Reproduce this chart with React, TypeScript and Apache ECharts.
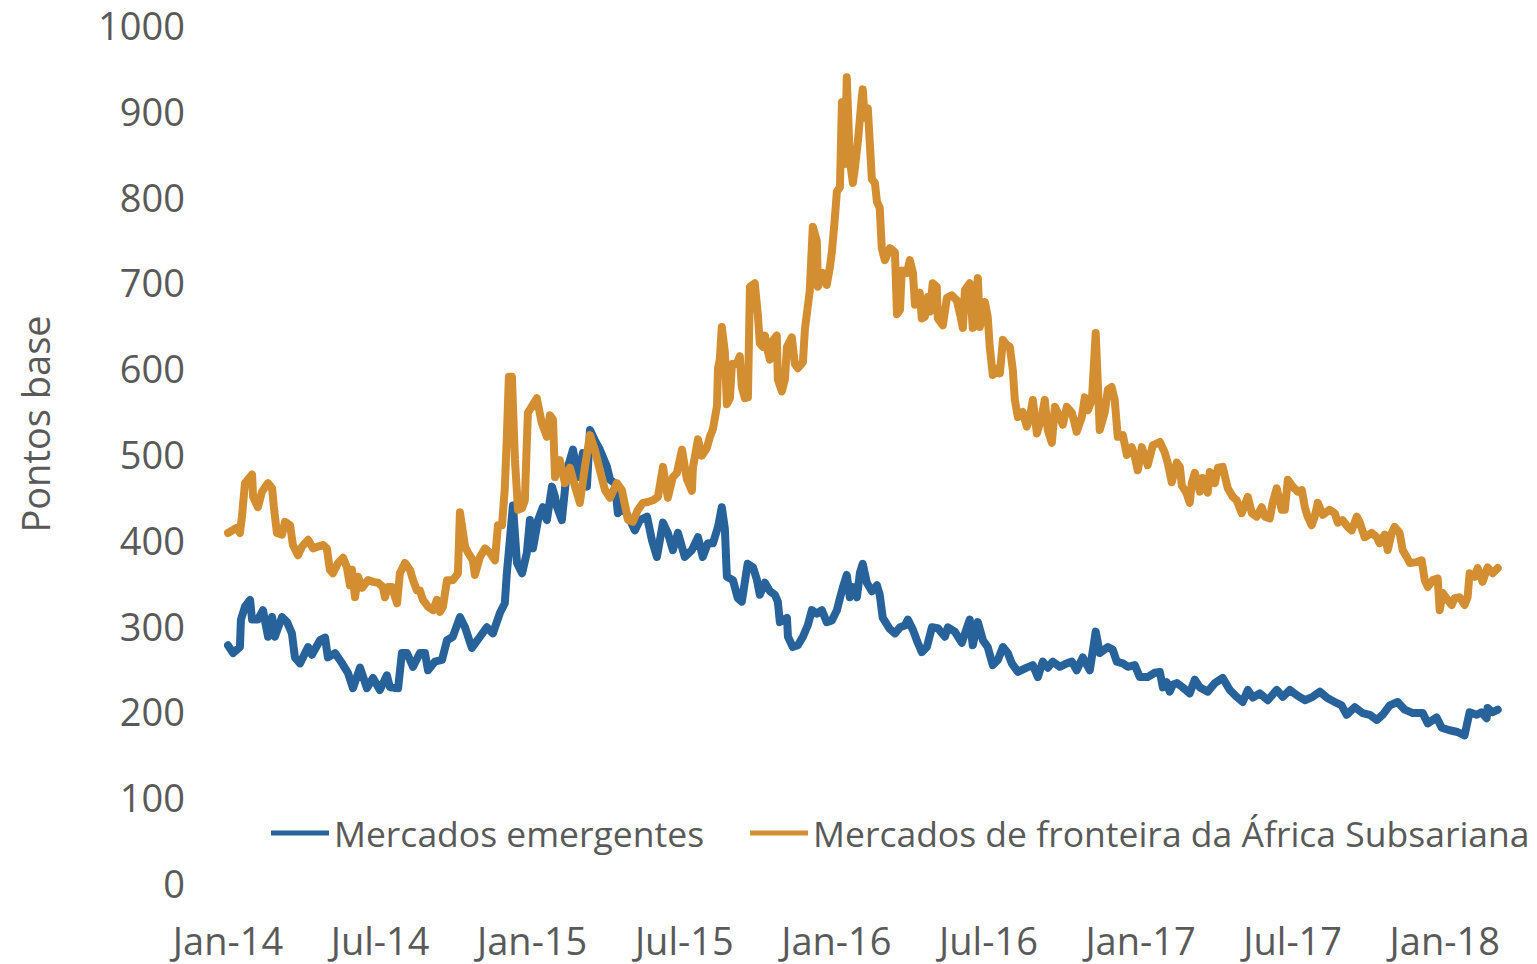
import React, { useEffect, useRef } from "react";
import * as echarts from "echarts";

// x = months since Jan-2014, y = basis points
const tickLabels = ["Jan-14", "Jul-14", "Jan-15", "Jul-15", "Jan-16", "Jul-16", "Jan-17", "Jul-17", "Jan-18"];
const monthsPerTick = 6;
const lastMonth = 50.1;
const seriesNames = ["Mercados emergentes", "Mercados de fronteira da África Subsariana"];
const axisTitle = "Pontos base";

const emergentes: [number, number][] = [
  [0.0, 277], [0.2, 268], [0.47, 275], [0.51, 307], [0.67, 322], [0.87, 330], [0.95, 307], [1.18, 307],
  [1.38, 318], [1.58, 287], [1.74, 310], [1.85, 287], [2.13, 310], [2.33, 304], [2.52, 291], [2.64, 263],
  [2.84, 256], [3.16, 275], [3.31, 266], [3.63, 283], [3.83, 286], [3.94, 263], [4.22, 268], [4.5, 256],
  [4.73, 245], [4.93, 227], [5.21, 251], [5.48, 227], [5.72, 239], [5.99, 225], [6.27, 242], [6.39, 228],
  [6.71, 227], [6.86, 268], [7.06, 268], [7.3, 252], [7.57, 268], [7.77, 268], [7.89, 248], [8.16, 258],
  [8.44, 260], [8.64, 283], [8.87, 287], [9.15, 310], [9.35, 298], [9.62, 274], [9.94, 287], [10.21, 298],
  [10.45, 291], [10.73, 315], [10.92, 326], [11.0, 361], [11.12, 400], [11.24, 440], [11.4, 373], [11.6, 361],
  [11.79, 385], [11.91, 423], [12.03, 390], [12.23, 423], [12.42, 438], [12.58, 423], [12.78, 462], [12.9, 450],
  [12.98, 438], [13.17, 423], [13.37, 481], [13.61, 505], [13.8, 473], [14.0, 501], [14.16, 462], [14.28, 528],
  [14.47, 516], [14.67, 505], [14.95, 485], [15.07, 470], [15.26, 466], [15.38, 431], [15.58, 438], [15.86, 423],
  [16.05, 411], [16.25, 423], [16.53, 427], [16.72, 400], [16.92, 380], [17.16, 420], [17.35, 408], [17.55, 388],
  [17.75, 408], [18.02, 380], [18.3, 388], [18.54, 403], [18.73, 380], [18.93, 396], [19.13, 396], [19.33, 415],
  [19.48, 438], [19.6, 413], [19.68, 357], [19.92, 353], [20.11, 332], [20.27, 328], [20.5, 372], [20.71, 368],
  [20.86, 354], [20.98, 336], [21.18, 350], [21.38, 340], [21.57, 336], [21.69, 328], [21.77, 304], [22.05, 309],
  [22.09, 287], [22.28, 275], [22.48, 277], [22.68, 287], [22.88, 301], [23.03, 318], [23.23, 314], [23.43, 318],
  [23.62, 304], [23.82, 306], [24.02, 318], [24.14, 332], [24.26, 345], [24.41, 359], [24.53, 333], [24.65, 345],
  [24.81, 333], [24.93, 362], [25.04, 372], [25.2, 350], [25.4, 340], [25.6, 347], [25.71, 336], [25.83, 309],
  [26.11, 296], [26.31, 291], [26.51, 298], [26.7, 300], [26.82, 307], [27.02, 295], [27.21, 280], [27.37, 269],
  [27.57, 275], [27.77, 298], [28.0, 297], [28.28, 287], [28.4, 298], [28.67, 293], [28.95, 280], [29.26, 307],
  [29.38, 277], [29.58, 304], [29.78, 283], [29.97, 275], [30.17, 254], [30.37, 260], [30.57, 275], [30.76, 268],
  [30.92, 256], [31.16, 246], [31.51, 251], [31.75, 254], [31.95, 240], [32.14, 258], [32.34, 251], [32.54, 258],
  [32.81, 252], [33.09, 256], [33.29, 258], [33.48, 248], [33.72, 263], [34.0, 248], [34.23, 293], [34.39, 268],
  [34.71, 275], [34.9, 272], [35.06, 258], [35.3, 256], [35.5, 252], [35.77, 254], [35.97, 240], [36.28, 240],
  [36.56, 245], [36.76, 246], [36.88, 228], [37.03, 234], [37.15, 223], [37.27, 231], [37.43, 233], [37.66, 228],
  [37.94, 221], [38.14, 237], [38.34, 228], [38.65, 223], [38.93, 233], [39.24, 239], [39.52, 225], [39.79, 217],
  [40.03, 211], [40.23, 225], [40.43, 216], [40.7, 221], [41.02, 213], [41.37, 225], [41.61, 217], [41.89, 225],
  [42.16, 219], [42.48, 213], [42.79, 217], [43.07, 223], [43.35, 216], [43.66, 211], [43.93, 207], [44.13, 196],
  [44.45, 205], [44.76, 198], [45.04, 196], [45.32, 190], [45.55, 196], [45.83, 207], [46.14, 211], [46.42, 202],
  [46.74, 198], [47.13, 198], [47.33, 186], [47.68, 193], [47.88, 181], [48.19, 178], [48.5, 176], [48.78, 172],
  [48.98, 199], [49.26, 196], [49.45, 199], [49.65, 192], [49.69, 204], [49.89, 199], [50.09, 202],
];

const fronteira: [number, number][] = [
  [0.0, 408], [0.35, 414], [0.47, 408], [0.55, 427], [0.67, 466], [0.95, 476], [0.99, 450], [1.18, 438],
  [1.34, 456], [1.58, 466], [1.74, 460], [1.81, 438], [1.93, 408], [2.13, 406], [2.25, 421], [2.45, 417],
  [2.56, 394], [2.76, 382], [2.92, 392], [3.16, 400], [3.35, 390], [3.75, 394], [3.9, 390], [4.02, 365],
  [4.14, 361], [4.34, 373], [4.54, 379], [4.69, 368], [4.81, 347], [4.89, 365], [5.01, 333], [5.13, 357],
  [5.29, 344], [5.52, 353], [5.72, 351], [5.92, 350], [6.11, 345], [6.19, 333], [6.31, 345], [6.47, 345],
  [6.67, 326], [6.78, 361], [6.98, 373], [7.18, 365], [7.3, 353], [7.45, 341], [7.57, 341], [7.69, 330],
  [7.89, 322], [8.09, 318], [8.24, 330], [8.36, 316], [8.48, 322], [8.64, 353], [8.87, 353], [9.07, 361],
  [9.15, 432], [9.35, 392], [9.47, 385], [9.66, 376], [9.74, 359], [9.94, 380], [10.14, 390], [10.33, 385],
  [10.53, 376], [10.65, 417], [10.81, 417], [10.92, 460], [11.0, 520], [11.08, 590], [11.2, 590], [11.32, 493],
  [11.44, 435], [11.6, 437], [11.71, 446], [11.83, 548], [12.18, 565], [12.38, 536], [12.58, 520], [12.7, 545],
  [12.82, 540], [12.9, 473], [13.09, 493], [13.29, 466], [13.49, 484], [13.69, 462], [13.88, 443], [14.08, 485],
  [14.28, 522], [14.47, 505], [14.67, 481], [14.87, 458], [15.07, 449], [15.34, 466], [15.54, 458], [15.78, 423],
  [15.97, 421], [16.17, 435], [16.37, 443], [16.56, 444], [16.76, 446], [16.96, 450], [17.16, 485], [17.35, 449],
  [17.55, 473], [17.71, 478], [17.91, 505], [18.1, 471], [18.3, 457], [18.34, 484], [18.54, 517], [18.69, 498],
  [18.89, 507], [19.01, 520], [19.13, 529], [19.29, 556], [19.33, 600], [19.4, 610], [19.48, 648], [19.6, 619],
  [19.68, 558], [19.8, 565], [19.88, 605], [20.07, 605], [20.19, 614], [20.27, 578], [20.39, 565], [20.51, 566],
  [20.59, 695], [20.78, 699], [20.9, 663], [20.98, 629], [21.1, 625], [21.18, 638], [21.3, 619], [21.38, 610],
  [21.49, 632], [21.65, 638], [21.69, 587], [21.85, 573], [21.97, 587], [22.05, 625], [22.24, 636], [22.36, 605],
  [22.48, 600], [22.68, 607], [22.76, 646], [22.95, 690], [23.07, 765], [23.23, 748], [23.27, 695], [23.47, 711],
  [23.62, 697], [23.74, 717], [23.82, 735], [23.94, 775], [24.02, 806], [24.14, 811], [24.22, 910], [24.34, 838],
  [24.41, 939], [24.53, 843], [24.65, 816], [24.73, 833], [24.85, 865], [25.0, 915], [25.04, 925], [25.12, 892],
  [25.24, 903], [25.4, 820], [25.52, 816], [25.6, 794], [25.71, 787], [25.79, 740], [25.91, 726], [26.11, 740],
  [26.31, 735], [26.39, 663], [26.51, 668], [26.58, 714], [26.78, 711], [26.9, 726], [27.02, 711], [27.1, 674],
  [27.29, 688], [27.37, 658], [27.49, 660], [27.61, 683], [27.69, 666], [27.8, 699], [27.96, 695], [28.0, 658],
  [28.2, 650], [28.36, 682], [28.55, 685], [28.75, 679], [28.87, 664], [28.99, 647], [29.07, 691], [29.26, 699],
  [29.38, 647], [29.58, 705], [29.66, 648], [29.86, 677], [29.97, 660], [30.05, 625], [30.17, 592], [30.37, 600],
  [30.45, 594], [30.57, 633], [30.72, 627], [30.84, 625], [30.96, 598], [31.04, 563], [31.16, 543], [31.35, 549],
  [31.51, 532], [31.63, 543], [31.75, 563], [31.91, 524], [32.1, 543], [32.22, 563], [32.34, 528], [32.5, 513],
  [32.62, 555], [32.81, 543], [32.93, 534], [33.09, 555], [33.29, 548], [33.48, 526], [33.68, 543], [33.8, 566],
  [33.92, 551], [34.08, 563], [34.23, 641], [34.39, 528], [34.59, 549], [34.71, 575], [34.86, 578], [34.98, 563],
  [35.1, 520], [35.3, 522], [35.46, 499], [35.65, 508], [35.77, 497], [35.89, 481], [36.05, 508], [36.28, 487],
  [36.48, 510], [36.76, 514], [36.95, 502], [37.07, 490], [37.23, 467], [37.43, 490], [37.55, 485], [37.63, 463],
  [37.82, 454], [37.94, 443], [38.02, 466], [38.14, 478], [38.34, 456], [38.45, 472], [38.65, 455], [38.73, 479],
  [38.93, 466], [39.05, 484], [39.24, 485], [39.44, 460], [39.64, 450], [39.79, 446], [39.99, 431], [40.23, 450],
  [40.39, 431], [40.58, 427], [40.78, 438], [40.9, 427], [41.1, 425], [41.21, 443], [41.37, 460], [41.57, 435],
  [41.69, 435], [41.81, 470], [42.0, 462], [42.2, 456], [42.36, 458], [42.48, 438], [42.59, 427], [42.75, 417],
  [42.87, 427], [42.99, 443], [43.19, 429], [43.46, 435], [43.66, 431], [43.78, 420], [43.97, 423], [44.17, 415],
  [44.33, 411], [44.53, 427], [44.65, 420], [44.84, 403], [45.12, 408], [45.32, 403], [45.43, 396], [45.63, 406],
  [45.75, 388], [45.91, 408], [46.02, 415], [46.22, 408], [46.34, 388], [46.5, 380], [46.62, 373], [46.89, 374],
  [47.09, 376], [47.21, 353], [47.33, 345], [47.53, 353], [47.72, 355], [47.8, 318], [47.92, 338], [48.11, 330],
  [48.27, 324], [48.39, 332], [48.59, 333], [48.78, 324], [48.9, 333], [48.98, 361], [49.18, 357], [49.3, 367],
  [49.49, 351], [49.69, 368], [49.89, 361], [50.09, 367],
];

const FONT = "'Open Sans', 'Noto Sans', sans-serif";
const TEXT_COLOR = "#595959";
const BLUE = "#27639A";
const ORANGE = "#D48E32";

export default function App() {
  const ref = useRef<HTMLDivElement>(null);

  useEffect(() => {
    if (!ref.current) return;
    const chart = echarts.init(ref.current, undefined, { renderer: "svg" });
    chart.setOption({
      animation: false,
      backgroundColor: "#ffffff",
      grid: { left: 228, right: 39, top: 25, bottom: 81, containLabel: false },
      xAxis: {
        type: "value",
        min: 0,
        max: lastMonth,
        interval: monthsPerTick,
        axisLine: { show: false },
        axisTick: { show: false },
        splitLine: { show: false },
        axisLabel: {
          margin: 38,
          fontSize: 38,
          lineHeight: 38,
          fontFamily: FONT,
          color: TEXT_COLOR,
          showMaxLabel: false,
          formatter: (v: number) => {
            const i = Math.round(v / monthsPerTick);
            if (Math.abs(v - i * monthsPerTick) > 1e-6) return "";
            return tickLabels[i] ?? "";
          },
        },
      },
      yAxis: {
        type: "value",
        min: 0,
        max: 1000,
        interval: 100,
        axisLine: { show: false },
        axisTick: { show: false },
        splitLine: { show: false },
        axisLabel: {
          margin: 43,
          fontSize: 38,
          fontFamily: FONT,
          color: TEXT_COLOR,
          formatter: (v: number) => String(v),
        },
      },
      legend: {
        left: 266,
        top: 809,
        width: 1271,
        itemGap: 46,
        itemWidth: 58,
        itemHeight: 5,
        icon: "rect",
        textStyle: { fontSize: 35.5, lineHeight: 38, fontFamily: FONT, color: TEXT_COLOR },
        data: seriesNames,
      },
      graphic: [
        {
          type: "text",
          x: 35,
          y: 424,
          rotation: Math.PI / 2,
          style: {
            text: axisTitle,
            fontSize: 38,
            fontFamily: FONT,
            fill: TEXT_COLOR,
            textAlign: "center",
            textVerticalAlign: "middle",
          },
        },
      ],
      series: [
        {
          name: seriesNames[0],
          type: "line",
          data: emergentes,
          showSymbol: false,
          symbol: "none",
          color: BLUE,
          lineStyle: { width: 8, color: BLUE, join: "round", cap: "round" },
        },
        {
          name: seriesNames[1],
          type: "line",
          data: fronteira,
          showSymbol: false,
          symbol: "none",
          color: ORANGE,
          lineStyle: { width: 8, color: ORANGE, join: "round", cap: "round" },
        },
      ],
    });
    return () => chart.dispose();
  }, []);

  return (
    <div
      ref={ref}
      style={{ position: "absolute", left: 0, top: 0, width: 1537, height: 964 }}
    />
  );
}
